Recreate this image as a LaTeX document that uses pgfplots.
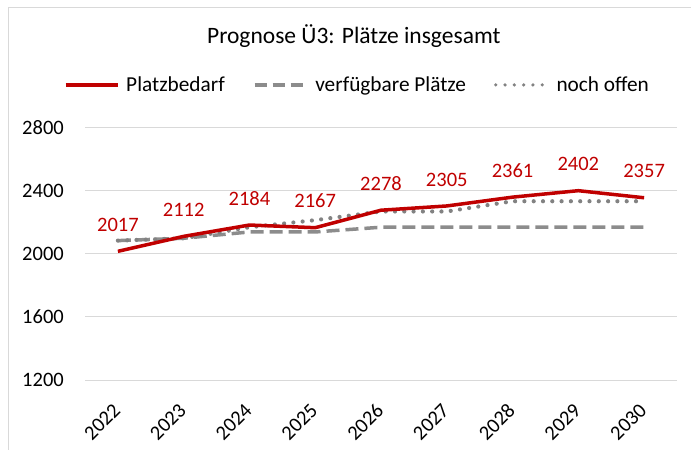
\documentclass[border=0pt]{standalone}
\usepackage{pgfplots}
\pgfplotsset{compat=1.18}
\usepackage{fontspec}
\setmainfont{Carlito}
\definecolor{redline}{HTML}{C00000}
\definecolor{grayline}{HTML}{8C8C8C}
\definecolor{dotgray}{HTML}{828282}
\definecolor{gridgray}{HTML}{D9D9D9}
\begin{document}
\begin{tikzpicture}
\useasboundingbox (0,0) rectangle (691bp,450bp);
\draw[gridgray, line width=0.75bp] (8bp,0bp) -- (8bp,443bp) -- (691bp,443bp);
\begin{axis}[
  at={(85bp,70bp)}, anchor=south west,
  scale only axis, width=592bp, height=252bp,
  xmin=-0.5, xmax=8.5, ymin=1200, ymax=2800,
  xtick={0,1,2,3,4,5,6,7,8},
  xticklabels={2022,2023,2024,2025,2026,2027,2028,2029,2030},
  ytick={1200,1600,2000,2400,2800},
  /pgf/number format/assume math mode=true,
  /pgf/number format/set thousands separator={},
  axis line style={draw=none},
  major tick length=0pt,
  ymajorgrids, grid style={gridgray, line width=1bp},
  tick label style={font=\fontsize{20.5bp}{24bp}\selectfont, text=black},
  yticklabel style={anchor=east, inner sep=0pt, xshift=-21bp},
  xticklabel style={yshift=-27bp, xshift=-1bp, rotate=45, anchor=east, inner sep=0pt},
  title={Prognose Ü3: Plätze insgesamt},
  title style={at={(axis description cs:0.454,1.341)}, anchor=center, font=\fontsize{23.5bp}{28bp}\selectfont},
  legend columns=3,
  legend style={at={(axis description cs:0.46,1.171)}, anchor=center, draw=none, fill=none,
    font=\fontsize{21.3bp}{24bp}\selectfont, inner sep=0pt,
    /tikz/every odd column/.append style={column sep=5bp},
    /tikz/every even column/.append style={column sep=26bp}},
  legend image code/.code={\draw[#1] (0bp,0bp) -- (52bp,0bp);},
  clip=false,
]
\addlegendimage{redline, line width=3.5bp}
\addlegendentry{Platzbedarf}
\addlegendimage{grayline, line width=3.5bp, dash pattern=on 12bp off 6bp}
\addlegendentry{verfügbare Plätze}
\addlegendimage{dotgray, line width=3.6bp, line cap=round, dash pattern=on 0bp off 9.3bp}
\addlegendentry{noch offen}

\addplot[forget plot, grayline, line width=3.5bp, dash pattern=on 13bp off 6bp] coordinates {
(0,2085) (1,2100) (2,2140) (3,2140) (4,2170) (5,2170) (6,2170) (7,2170) (8,2170)};
\addplot[forget plot, dotgray, line width=4.2bp, line cap=round, dash pattern=on 0bp off 9.3bp] coordinates {
(0,2085) (1,2100) (2,2170) (3,2215) (4,2270) (5,2270) (6,2335) (7,2335) (8,2335)};
\addplot[forget plot, redline, line width=3.5bp,
  nodes near coords, point meta=explicit symbolic,
  every node near coord/.append style={anchor=south, inner sep=0pt, yshift=18bp, text=redline, font=\fontsize{20.5bp}{24bp}\selectfont}]
 coordinates {
(0,2017) [2017] (1,2112) [2112] (2,2184) [2184] (3,2167) [2167] (4,2278) [2278] (5,2305) [2305] (6,2361) [2361] (7,2402) [2402] (8,2357) [2357]};
\end{axis}
\end{tikzpicture}
\end{document}
